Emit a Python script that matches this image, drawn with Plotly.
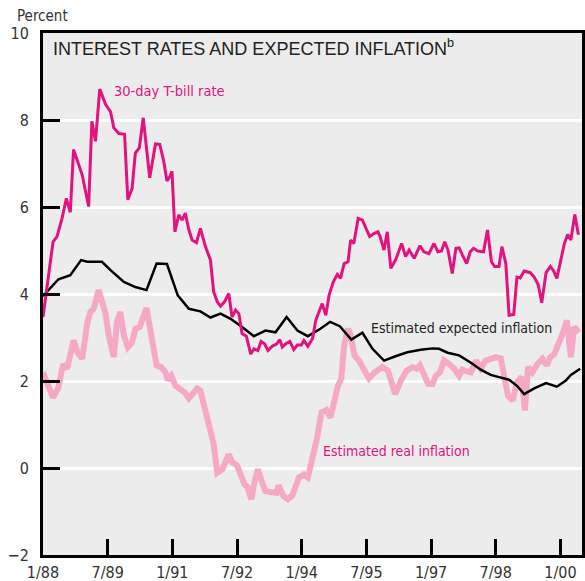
import plotly.graph_objects as go

# Months since January 1988
tbill_m = [0, 2.8, 3.9, 5.3, 6.5, 7.6, 8.5, 10.9, 12.7, 13.6, 14.6, 15.8, 17.4, 18.8, 19.7, 21.1, 22.7, 23.6, 24.8, 25.7,
           26.8, 27.9, 29.7, 31.3, 32.5, 33.6, 34.5, 35.3, 35.9, 36.7, 37.8, 38.7, 39.6, 40.6, 41.5, 42.7, 43.8, 45.2,
           46.6, 47.5, 48.5, 49.4, 50.5, 51.7, 52.6, 53.6, 54.5, 55.4, 56.6, 57.8, 58.7, 59.8, 60.7, 61.7, 62.6, 63.8,
           65.0, 65.9, 66.6, 67.5, 68.7, 69.8, 70.8, 71.9, 72.6, 73.7, 75.0, 75.9, 76.8, 77.7, 78.7, 79.6, 80.8, 81.9,
           82.8, 83.8, 84.9, 85.6, 86.5, 87.7, 88.9, 89.8, 90.9, 92.1, 93.2, 93.8, 94.9, 95.8, 96.8, 98.1, 99.8, 100.9,
           101.9, 103.3, 104.9, 106.0, 107.4, 108.8, 109.9, 110.9, 111.8, 112.7, 113.9, 114.9, 115.8, 116.7, 117.9,
           118.9, 119.8, 121.0, 122.6, 123.7, 124.8, 125.7, 126.9, 127.7, 128.8, 129.7, 131.0, 131.9, 132.8, 133.9,
           135.6, 136.7, 137.8, 138.8, 140.0, 141.2, 142.1, 143.0, 144.1, 145.1, 146.0, 146.9, 148.0, 149.0]
tbill_v = [3.47, 5.2, 5.32, 5.74, 6.2, 5.88, 7.32, 6.74, 6.01, 7.97, 7.51, 8.71, 8.36, 8.19, 7.82, 7.69, 7.67, 6.17, 6.43,
           7.24, 7.36, 8.05, 6.67, 7.45, 7.44, 7.05, 6.6, 6.7, 6.82, 5.43, 5.82, 5.70, 5.86, 5.47, 5.24, 5.18, 5.51, 5.09,
           4.78, 4.05, 3.82, 3.72, 3.82, 4.01, 3.47, 3.63, 3.55, 3.09, 3.03, 2.62, 2.74, 2.70, 2.91, 2.85, 2.70, 2.80,
           2.85, 2.95, 2.78, 2.85, 2.91, 2.72, 2.83, 2.83, 2.93, 2.80, 2.97, 3.39, 3.59, 3.78, 3.51, 3.97, 4.28, 4.45,
           4.36, 4.70, 4.74, 5.24, 5.16, 5.74, 5.70, 5.51, 5.32, 5.39, 5.43, 5.32, 5.01, 5.43, 4.59, 4.78, 5.16, 4.86,
           5.01, 4.82, 5.11, 4.97, 4.93, 5.16, 4.97, 4.99, 5.20, 5.01, 4.47, 5.05, 5.06, 4.90, 4.70, 4.97, 5.05, 4.99,
           4.97, 5.47, 4.74, 4.63, 4.63, 5.09, 4.70, 3.51, 3.53, 4.39, 4.37, 4.53, 4.49, 4.39, 4.22, 3.80, 4.49, 4.63,
           4.53, 4.36, 4.78, 5.16, 5.37, 5.24, 5.83, 5.36]

expected_m = [0, 4.3, 7.6, 10.6, 12.3, 16.4, 18.8, 22.5, 25.7, 28.8, 31.6, 34.5, 37.5, 40.6, 43.8, 46.6, 49.4, 52.2,
              55.4, 58.7, 61.9, 64.7, 67.8, 70.8, 73.7, 77.2, 79.9, 82.6, 85.8, 88.9, 91.7, 94.9, 98.1, 101.4, 105.1,
              108.5, 110.2, 112.6, 115.8, 119.1, 121.8, 124.6, 126.9, 129.7, 131.9, 133.9, 136.7, 140.0, 143.0,
              145.5, 146.9, 149.5]
expected_v = [3.95, 4.34, 4.43, 4.78, 4.74, 4.74, 4.55, 4.28, 4.16, 4.09, 4.70, 4.69, 3.97, 3.66, 3.60, 3.46, 3.55,
              3.43, 3.24, 3.03, 3.16, 3.12, 3.47, 3.16, 3.03, 3.20, 3.36, 3.26, 2.95, 3.11, 2.74, 2.47, 2.57, 2.66,
              2.72, 2.75, 2.74, 2.65, 2.59, 2.42, 2.26, 2.14, 2.09, 2.03, 1.89, 1.70, 1.83, 1.95, 1.87, 2.01, 2.14, 2.28]

real_m = [0, 1.6, 2.8, 4.3, 5.6, 6.7, 8.5, 9.6, 10.9, 12.3, 13.2, 14.1, 15.5, 17.4, 18.3, 19.7, 20.6, 21.5, 22.5, 23.6,
          24.8, 25.7, 26.9, 28.8, 29.9, 31.6, 32.9, 34.1, 34.7, 35.7, 36.9, 38.3, 39.4, 40.6, 42.0, 42.9, 43.8, 45.2,
          46.6, 47.5, 48.5, 49.9, 51.7, 52.6, 54.0, 55.0, 56.1, 56.8, 58.0, 58.9, 59.8, 61.0, 61.9, 63.3, 65.0, 65.6,
          66.9, 68.1, 69.4, 71.2, 72.6, 73.7, 75.0, 76.2, 77.5, 78.9, 80.0, 81.2, 82.1, 83.0, 83.8, 84.9, 85.6, 86.7,
          87.9, 89.2, 90.7, 92.3, 94.5, 96.0, 98.0, 99.6, 101.2, 102.8, 104.0, 104.9, 106.0, 107.2, 108.4, 109.3,
          110.5, 111.6, 113.0, 114.4, 115.8, 116.7, 117.9, 119.1, 120.5, 121.8, 123.2, 124.6, 126.0, 127.4, 128.5,
          129.4, 130.7, 131.9, 133.2, 134.1, 135.0, 136.2, 137.6, 139.0, 140.2, 141.2, 142.3, 143.4, 144.6, 145.8,
          146.9, 147.8, 149.2]
real_v = [2.2, 1.82, 1.62, 1.85, 2.39, 2.28, 2.93, 2.66, 2.51, 3.32, 3.59, 3.66, 4.09, 3.55, 3.05, 2.55, 3.36, 3.59,
          3.05, 2.78, 2.89, 3.2, 3.24, 3.68, 3.16, 2.36, 2.32, 2.2, 2.02, 2.12, 1.89, 1.82, 1.74, 1.6, 1.74, 1.83, 1.78,
          1.28, 0.93, 0.55, -0.11, -0.03, 0.31, 0.14, 0.06, -0.18, -0.38, -0.42, -0.72, -0.3, -0.03, -0.34, -0.53,
          -0.55, -0.57, -0.40, -0.65, -0.72, -0.63, -0.22, -0.15, -0.22, 0.2, 0.66, 1.28, 1.33, 1.16, 1.58, 1.89, 2.05,
          2.82, 3.2, 3.05, 2.59, 2.47, 2.28, 2.06, 2.2, 2.32, 2.24, 1.70, 2.01, 2.24, 2.32, 2.28, 2.36, 2.12, 1.93,
          1.93, 2.12, 2.2, 2.47, 2.39, 2.28, 2.12, 2.26, 2.22, 2.2, 2.47, 2.29, 2.47, 2.51, 2.55, 2.52, 2.12, 1.66,
          1.55, 1.97, 2.09, 1.32, 2.32, 2.2, 2.39, 2.51, 2.36, 2.55, 2.62, 2.82, 3.09, 3.39, 2.55, 3.24, 3.12]

tick_vals = [0, 18, 36, 54, 72, 90, 108, 126, 144]
tick_text = ["1/88", "7/89", "1/91", "7/92", "1/94", "7/95", "1/97", "7/98", "1/00"]
y_ticks = [-2, 0, 2, 4, 6, 8, 10]

MAGENTA = "#e2127e"
PINK = "#f6a9c4"
COND = "Liberation Sans Narrow, DejaVu Sans Condensed, Arial Narrow, sans-serif"

fig = go.Figure()
fig.add_trace(go.Scatter(x=real_m, y=real_v, mode="lines", line=dict(color=PINK, width=6), hoverinfo="skip"))
fig.add_trace(go.Scatter(x=expected_m, y=expected_v, mode="lines", line=dict(color="#000000", width=2.5), hoverinfo="skip"))
fig.add_trace(go.Scatter(x=tbill_m, y=tbill_v, mode="lines", line=dict(color=MAGENTA, width=3), hoverinfo="skip"))

fig.update_layout(
    width=585, height=581,
    margin=dict(l=43, r=3, t=33, b=26),
    paper_bgcolor="white",
    plot_bgcolor="#ececec",
    showlegend=False,
    font=dict(family=COND, size=16, color="#333333"),
    xaxis=dict(range=[0, 150], tickvals=tick_vals, ticktext=tick_text, ticks="inside", ticklen=16, tickwidth=3,
               tickcolor="black", showgrid=False, zeroline=False, showline=True, linewidth=3, linecolor="black",
               mirror=True, automargin=False, ticklabelstandoff=1,
               tickfont=dict(family=COND, size=16, color="#333333")),
    yaxis=dict(range=[-2, 10], tickvals=y_ticks, ticks="inside", ticklen=17, tickwidth=3, tickcolor="black",
               showgrid=True, gridcolor="white", gridwidth=3, zeroline=False, showline=True, linewidth=3,
               linecolor="black", mirror=True, automargin=False, ticklabelstandoff=8,
               tickfont=dict(family=COND, size=16, color="#333333")),
    annotations=[
        dict(text="Percent", xref="paper", yref="paper", x=0, y=1.0, xshift=-28, yshift=17, xanchor="left",
             yanchor="middle", showarrow=False, font=dict(family=COND, size=15, color="#333333")),
        dict(text="INTEREST RATES AND EXPECTED INFLATION<sup>b</sup>", xref="x", yref="y", x=2.3, y=9.66,
             xanchor="left", yanchor="middle", showarrow=False,
             font=dict(family="Liberation Sans, Arial, sans-serif", size=18, color="#222222")),
        dict(text="30-day T-bill rate", xref="x", yref="y", x=19.3, y=8.67, xanchor="left", yanchor="middle",
             showarrow=False, font=dict(family=COND, size=14.5, color=MAGENTA)),
        dict(text="Estimated expected inflation", xref="x", yref="y", x=90.8, y=3.22, xanchor="left",
             yanchor="middle", showarrow=False, font=dict(family=COND, size=14, color="#222222")),
        dict(text="Estimated real inflation", xref="x", yref="y", x=77.3, y=0.38, xanchor="left", yanchor="middle",
             showarrow=False, font=dict(family=COND, size=14, color=MAGENTA)),
    ],
)

fig.write_html("out.html", config={"displayModeBar": False},
               post_script="document.body.style.margin='0';document.body.style.overflow='hidden';")
